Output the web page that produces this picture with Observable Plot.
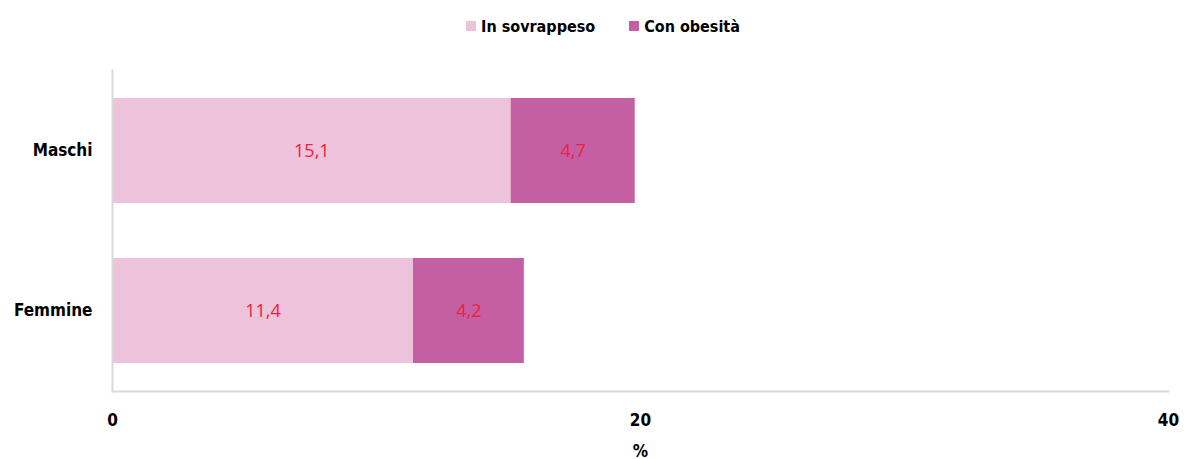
<!DOCTYPE html>
<html>
<head>
<meta charset="utf-8">
<script src="https://cdn.jsdelivr.net/npm/d3@7"></script>
<script src="https://cdn.jsdelivr.net/npm/@observablehq/plot@0.6"></script>
<style>
  html, body { margin: 0; padding: 0; background: #fff; }
  #legend { height: 52px; display: flex; justify-content: center; align-items: center; gap: 34px;
    font-family: "Liberation Sans Narrow", "DejaVu Sans Condensed", sans-serif; font-weight: bold; font-size: 16px; color: #000; padding-left: 22px; box-sizing: border-box; }
  #legend span.item { display: flex; align-items: center; gap: 5px; }
  #legend span.sw { display: inline-block; width: 10px; height: 10px; }
</style>
</head>
<body>
<div id="legend"></div>
<div id="chart"></div>
<script>
const categories = ["Maschi", "Femmine"];
const seriesNames = ["In sovrappeso", "Con obesità"];
const sovrappeso = [15.1, 11.4];
const obesita = [4.7, 4.2];
const colors = ["#ECC3DB", "#C55FA3"];
const xTicks = [0, 20, 40];

const data = [];
categories.forEach((c, i) => {
  data.push({cat: c, serie: seriesNames[0], value: sovrappeso[i]});
  data.push({cat: c, serie: seriesNames[1], value: obesita[i]});
});

const fmt = v => v.toFixed(1).replace(".", ",");

const legend = document.getElementById("legend");
seriesNames.forEach((s, i) => {
  const it = document.createElement("span");
  it.className = "item";
  it.innerHTML = `<span class="sw" style="background:${colors[i]}"></span><span>${s}</span>`;
  legend.appendChild(it);
});

const chart = Plot.plot({
  width: 1184,
  height: 407,
  marginLeft: 112,
  marginRight: 16,
  marginTop: 18,
  marginBottom: 68,
  style: {fontFamily: "'Liberation Sans Narrow', 'DejaVu Sans Condensed', sans-serif", fontSize: "17px", fontWeight: "bold", color: "#000"},
  x: {domain: [0, 40], ticks: xTicks, tickSize: 0, tickPadding: 22, label: "%", labelAnchor: "center", labelArrow: "none", labelOffset: 65},
  y: {domain: categories, paddingInner: 0.342, paddingOuter: 0.171, align: 0.5, tickSize: 0, tickPadding: 20, label: null},
  color: {domain: seriesNames, range: colors},
  marks: [
    Plot.barX(data, Plot.stackX({y: "cat", x: "value", fill: "serie", order: seriesNames})),
    Plot.text(data, Plot.stackX({y: "cat", x: "value", z: "serie", order: seriesNames, text: d => fmt(d.value),
      fill: "#F0203C", fontFamily: "'Open Sans', sans-serif", fontWeight: "normal", fontSize: 18})),
    Plot.frame({anchor: "left", stroke: "#D9D9D9", strokeWidth: 2, strokeOpacity: 1}),
    Plot.frame({anchor: "bottom", stroke: "#D9D9D9", strokeWidth: 2, strokeOpacity: 1})
  ]
});
document.getElementById("chart").appendChild(chart);
</script>
</body>
</html>
